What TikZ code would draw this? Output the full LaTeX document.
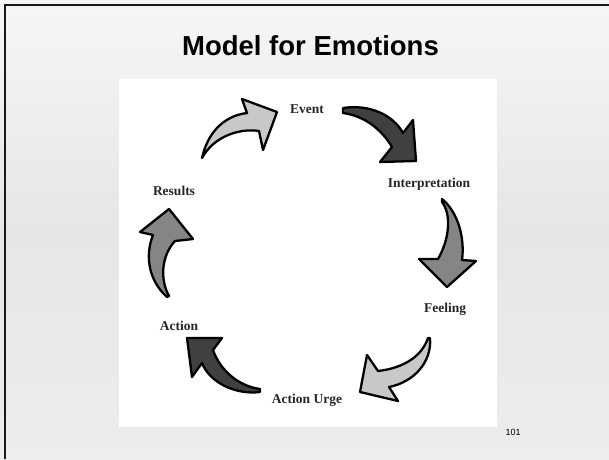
\documentclass[tikz,border=0pt]{standalone}
\usepackage{fontspec}
\setmainfont{Liberation Serif}
\newfontfamily\titlefont{Liberation Sans}
\definecolor{arrdark}{HTML}{404040}
\definecolor{arrmid}{HTML}{858585}
\definecolor{arrlight}{HTML}{C8C8C8}
\definecolor{bgtop}{HTML}{F6F6F6}
\definecolor{bgmid}{HTML}{E6E6E6}
\definecolor{bgbot}{HTML}{EDEDED}
\begin{document}
\begin{tikzpicture}[x=1pt,y=-1pt,
  lab/.style={font=\fontsize{13.5}{14}\selectfont\bfseries, anchor=base, inner sep=0pt, text=black!85},
  arr/.style={draw=black, line width=2.3pt, line join=round},
  darkarrow/.style={arr, fill=arrdark},
  midarrow/.style={arr, fill=arrmid},
  lightarrow/.style={arr, fill=arrlight}]
\useasboundingbox (0,0) rectangle (609,459);
\shade[top color=bgtop, bottom color=bgbot, middle color=bgmid] (0,0) rectangle (609,459);
\draw[line width=2pt, black!90] (5,459) -- (5,5) -- (609,5);
\node[font=\titlefont\fontsize{27.5}{30}\selectfont\bfseries, anchor=base, inner sep=0pt] (title) at (310.5,55) {Model for Emotions};
\fill[white] (119,79) rectangle (497,427);
% arrows
\filldraw[lightarrow] (202,158) .. controls (207,135) and (222,116) .. (247,113) -- (242,99) -- (277,112) -- (263,150) -- (259,131) .. controls (240,128) and (214,136) .. cycle;
\filldraw[darkarrow] (343,108) .. controls (370,104) and (393,115) .. (403,133) -- (413,120) -- (416,161) -- (380,162) -- (392,147) .. controls (382,130) and (365,116) .. (343,113) -- cycle;
\filldraw[midarrow] (442,199) .. controls (458,212) and (465,238) .. (462,260) -- (476,261) -- (447,287) -- (419,259) -- (438,259) .. controls (449,240) and (452,215) .. (442,202) -- cycle;
\filldraw[lightarrow] (430,338) .. controls (432,362) and (414,382) .. (389,387) -- (398,401) -- (360,392) -- (367,355) -- (378,371) .. controls (404,368) and (422,356) .. (428,338) -- cycle;
\filldraw[darkarrow] (260,392) .. controls (236,395) and (210,383) .. (202,363) -- (192,377) -- (187,338) -- (222,338) -- (213,350) .. controls (220,370) and (238,386) .. (260,389) -- cycle;
\filldraw[midarrow] (167,297) .. controls (148,280) and (145,255) .. (153,235) -- (140,232) -- (169,209) -- (193,239) -- (175,241) .. controls (161,256) and (160,280) .. (169,296) -- cycle;
% labels
\node[lab] (event) at (307,113) {Event};
\node[lab] (interp) at (429,187) {Interpretation};
\node[lab] (results) at (174,195) {Results};
\node[lab] (feeling) at (445,312) {Feeling};
\node[lab] (action) at (179,330) {Action};
\node[lab] (urge) at (307,403) {Action Urge};
\node[font=\titlefont\fontsize{9}{10}\selectfont, anchor=base, inner sep=0pt] (page) at (513,435) {101};
\end{tikzpicture}
\end{document}
